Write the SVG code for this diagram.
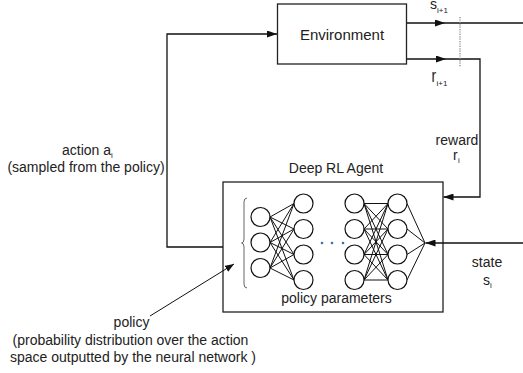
<svg xmlns="http://www.w3.org/2000/svg" width="523" height="373" viewBox="0 0 523 373">
  <defs>
    <marker id="arrow" markerUnits="userSpaceOnUse" markerWidth="10" markerHeight="7" refX="10" refY="3.5" orient="auto">
      <path d="M0,0 L10,3.5 L0,7 z" fill="#111"/>
    </marker>
    <marker id="arrowSmall" markerUnits="userSpaceOnUse" markerWidth="9" markerHeight="7" refX="9" refY="3.5" orient="auto">
      <path d="M0,0 L9,3.5 L0,7 z" fill="#111"/>
    </marker>
  </defs>
  <style>
    text { font-family: "Liberation Sans", Arial, sans-serif; font-size: 14px; fill: #222; }
    .mid { text-anchor: middle; }
    .sub { font-size: 8px; }
    .box { fill: none; stroke: #222; stroke-width: 1.3; }
    .wire { fill: none; stroke: #111; stroke-width: 1.3; }
    .thin { fill: none; stroke: #111; stroke-width: 1; }
    .neuron { fill: #fff; stroke: #111; stroke-width: 1.2; }
    .syn { stroke: #111; stroke-width: 1; fill: none; }
  </style>

  <rect width="523" height="373" fill="#fff"/>

  <!-- environment node -->
  <g id="environment">
    <rect class="box" x="277.5" y="4" width="129" height="60"/>
    <text class="mid" x="342" y="40" style="font-size:15px">Environment</text>
  </g>

  <!-- agent node with its policy network -->
  <g id="agent">
    <rect class="box" x="223" y="182" width="220" height="130"/>
    <text class="mid" x="336" y="173">Deep RL Agent</text>
    <text class="mid" x="336.5" y="303">policy parameters</text>

    <!-- brace grouping the input layer -->
    <path d="M247,198 Q244,198 244,202 L244,239 Q244,243 241.5,243 Q244,243 244,247 L244,284 Q244,288 247,288" fill="none" stroke="#555" stroke-width="0.9"/>

    <!-- synapses layer 1 -> layer 2 -->
    <g class="syn">
      <path d="M270,217 L294,203.5 M270,217 L294,229 M270,217 L294,254.5 M270,217 L294,280
               M270,242.5 L294,203.5 M270,242.5 L294,229 M270,242.5 L294,254.5 M270,242.5 L294,280
               M270,268 L294,203.5 M270,268 L294,229 M270,268 L294,254.5 M270,268 L294,280"/>
      <!-- synapses layer 3 -> layer 4 -->
      <path d="M364,203.5 L388,203.5 M364,203.5 L388,229 M364,203.5 L388,254.5 M364,203.5 L388,280
               M364,229 L388,203.5 M364,229 L388,229 M364,229 L388,254.5 M364,229 L388,280
               M364,254.5 L388,203.5 M364,254.5 L388,229 M364,254.5 L388,254.5 M364,254.5 L388,280
               M364,280 L388,203.5 M364,280 L388,229 M364,280 L388,254.5 M364,280 L388,280"/>
      <!-- layer 4 -> output -->
      <path d="M407,203.5 L425,243 M407,229 L425,243 M407,254.5 L425,243 M407,280 L425,243"/>
    </g>

    <!-- neurons -->
    <g class="neuron">
      <circle cx="260.5" cy="217" r="9.5"/>
      <circle cx="260.5" cy="242.5" r="9.5"/>
      <circle cx="260.5" cy="268" r="9.5"/>

      <circle cx="303.5" cy="203.5" r="9.5"/>
      <circle cx="303.5" cy="229" r="9.5"/>
      <circle cx="303.5" cy="254.5" r="9.5"/>
      <circle cx="303.5" cy="280" r="9.5"/>

      <circle cx="354.5" cy="203.5" r="9.5"/>
      <circle cx="354.5" cy="229" r="9.5"/>
      <circle cx="354.5" cy="254.5" r="9.5"/>
      <circle cx="354.5" cy="280" r="9.5"/>

      <circle cx="397.5" cy="203.5" r="9.5"/>
      <circle cx="397.5" cy="229" r="9.5"/>
      <circle cx="397.5" cy="254.5" r="9.5"/>
      <circle cx="397.5" cy="280" r="9.5"/>
    </g>

    <!-- hidden layers elided -->
    <g fill="#3a6fb0">
      <circle cx="322" cy="243" r="1.3"/>
      <circle cx="332" cy="243" r="1.3"/>
      <circle cx="343" cy="243" r="1.3"/>
    </g>
  </g>

  <!-- connectors -->
  <g id="connectors">
    <!-- action: agent -> environment -->
    <path class="wire" d="M223,247 H167 V34 H277" marker-end="url(#arrow)"/>
    <!-- next state s(i+1) -->
    <path class="wire" d="M407,23 H445" marker-end="url(#arrow)"/>
    <path class="wire" d="M445,23 H523"/>
    <!-- reward r(i+1) looping back into the agent -->
    <path class="wire" d="M407,59 H446" marker-end="url(#arrow)"/>
    <path class="wire" d="M446,59 H480 V197 H443.5" marker-end="url(#arrow)"/>
    <!-- state s(i) into the network -->
    <path class="wire" d="M523,243 H425.5" marker-end="url(#arrow)"/>
    <!-- policy pointer -->
    <path class="thin" d="M150,316 L234,264" marker-end="url(#arrowSmall)"/>
    <!-- time-step boundary -->
    <line x1="460" y1="17" x2="460" y2="67" stroke="#888" stroke-width="1.3" stroke-dasharray="1.2,1.2"/>
  </g>

  <!-- labels -->
  <g id="label-next-state">
    <text x="430" y="9">s</text>
    <text class="sub" x="437" y="13">i+1</text>
  </g>
  <g id="label-next-reward">
    <text transform="translate(431.5,82) scale(1,1.25)">r</text>
    <text class="sub" x="436.5" y="86">i+1</text>
  </g>
  <g id="label-reward">
    <text class="mid" x="457" y="145">reward</text>
    <text x="453" y="160">r</text>
    <text class="sub" x="458" y="163">i</text>
  </g>
  <g id="label-state">
    <text class="mid" x="487" y="267">state</text>
    <text x="483" y="285">s</text>
    <text class="sub" x="490" y="288">i</text>
  </g>
  <g id="label-action">
    <text x="62" y="155">action a<tspan class="sub" dy="3">i</tspan></text>
    <text class="mid" x="86" y="172">(sampled from the policy)</text>
  </g>
  <g id="label-policy">
    <text class="mid" x="131.5" y="327">policy</text>
    <text class="mid" x="130.5" y="345">(probability distribution over the action</text>
    <text class="mid" x="133" y="362">space outputted by the neural network )</text>
  </g>
</svg>
